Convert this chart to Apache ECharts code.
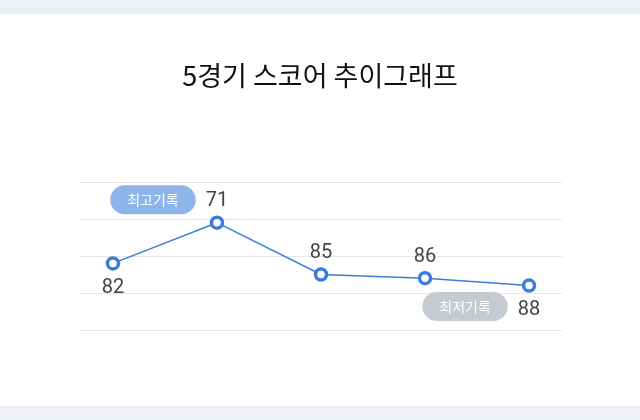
<!DOCTYPE html>
<html><head><meta charset="utf-8">
<script src="https://cdn.jsdelivr.net/npm/echarts@6/dist/echarts.min.js"></script>
<style>
html,body{margin:0;padding:0;background:#edf0f4;}
#c{position:absolute;left:0;top:14px;width:640px;height:392px;background:#fff;}
</style></head>
<body><div id="c"></div>
<script>
const games = ['1', '2', '3', '4', '5'];
const scores = [82, 71, 85, 86, 88];
const labelPos = ['bottom', 'top', 'top', 'top', 'bottom'];
const yTicks = [60, 70, 80, 90, 100];
const titleText = '5경기 스코어 추이그래프';
const bestText = '최고기록';
const worstText = '최저기록';

const FONT = '"Noto Sans CJK KR", Roboto, sans-serif';
const NUMFONT = 'Roboto, "Noto Sans CJK KR", sans-serif';
const chart = echarts.init(document.getElementById('c'), null, {renderer: 'canvas'});
const data = scores.map((v, i) => ({
  value: [i, v],
  label: {position: labelPos[i], distance: labelPos[i] === 'top' ? 4 : 7}
}));
chart.setOption({
  animation: false,
  title: {text: titleText, left: 'center', top: 43,
    textStyle: {fontFamily: FONT, fontSize: 27, fontWeight: 'normal', color: '#111'}},
  grid: {left: 80, right: 78, top: 168, bottom: 76},
  xAxis: {type: 'value', min: -0.317, max: 4.317, show: false},
  yAxis: {type: 'value', inverse: true, min: yTicks[0], max: yTicks[yTicks.length - 1], interval: 10,
    axisLabel: {show: false}, axisLine: {show: false}, axisTick: {show: false},
    splitLine: {lineStyle: {color: '#e6e6e6', width: 1}}},
  series: [{
    type: 'line', data: data,
    symbol: 'circle', symbolSize: 11,
    lineStyle: {color: '#3d7fd6', width: 1.5},
    itemStyle: {color: '#fff', borderColor: '#3b7dd8', borderWidth: 3.5},
    label: {show: true, fontFamily: NUMFONT, fontSize: 20, color: '#444',
      formatter: p => p.value[1]},
    markPoint: {
      symbol: 'circle', symbolSize: 1, itemStyle: {color: 'rgba(0,0,0,0)'},
      data: [
        {type: 'min', valueDim: 'y', label: {show: true, formatter: bestText, position: 'inside',
          offset: [-64, -23], color: '#fff', fontFamily: FONT, fontSize: 14,
          backgroundColor: '#8db5ea', borderRadius: 15, padding: [8, 17, 7, 17]}},
        {type: 'max', valueDim: 'y', label: {show: true, formatter: worstText, position: 'inside',
          offset: [-64, 21], color: '#fff', fontFamily: FONT, fontSize: 14,
          backgroundColor: '#c6cbd2', borderRadius: 15, padding: [8, 17, 7, 17]}}
      ]
    }
  }]
});
</script></body></html>
